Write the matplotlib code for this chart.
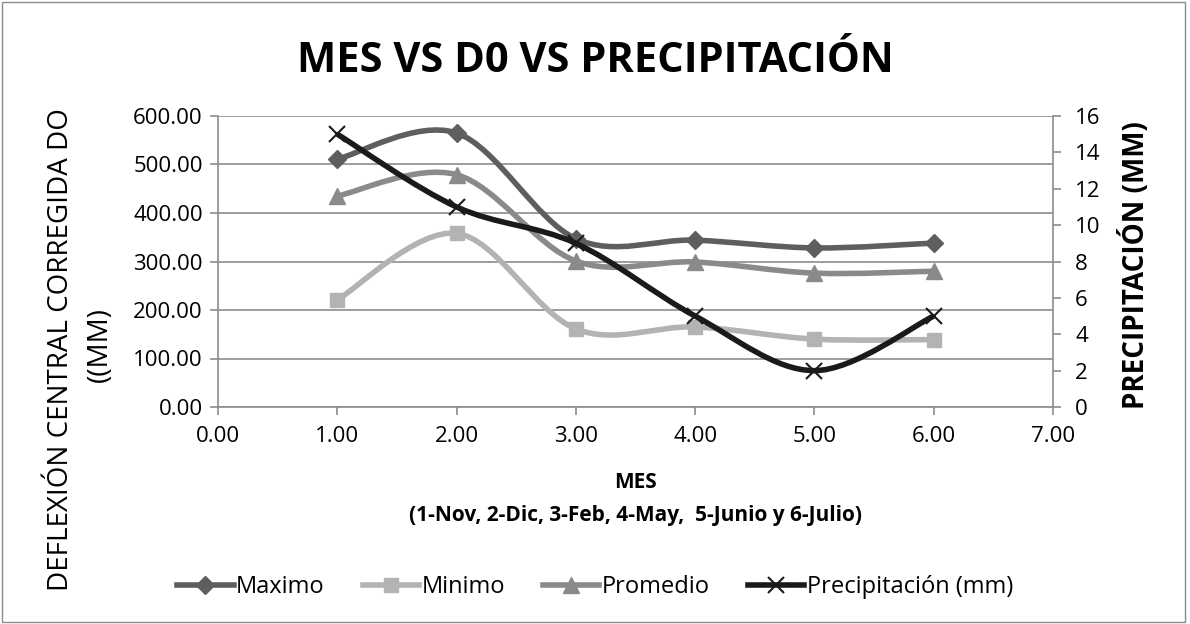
import matplotlib
matplotlib.use("Agg")
import matplotlib.pyplot as plt
from matplotlib.path import Path
from matplotlib.patches import PathPatch, Rectangle
from matplotlib.lines import Line2D

plt.rcParams['font.family'] = ['Open Sans', 'DejaVu Sans']

# data
mes = [1, 2, 3, 4, 5, 6]
maximo = [511, 565, 347, 344, 328, 338]
minimo = [221, 358, 161, 165, 140, 139]
promedio = [435, 479, 301, 299, 276, 280]
precip = [15, 11, 9, 5, 2, 5]

x_ticks = [0, 1, 2, 3, 4, 5, 6, 7]
y_ticks = [0, 100, 200, 300, 400, 500, 600]
y2_ticks = [0, 2, 4, 6, 8, 10, 12, 14, 16]

GRID = '#8c8c8c'
W, H = 1190, 624


def smooth(xs, ys):
    # bezier path like excel's smoothed line
    verts = [(xs[0], ys[0])]
    codes = [Path.MOVETO]
    n = len(xs)
    for i in range(n - 1):
        a = i - 1 if i > 0 else i
        b = i + 2 if i + 2 < n else i + 1
        c1 = (xs[i] + (xs[i + 1] - xs[a]) / 6, ys[i] + (ys[i + 1] - ys[a]) / 6)
        c2 = (xs[i + 1] - (xs[b] - xs[i]) / 6, ys[i + 1] - (ys[b] - ys[i]) / 6)
        verts += [c1, c2, (xs[i + 1], ys[i + 1])]
        codes += [Path.CURVE4] * 3
    return Path(verts, codes)


fig = plt.figure(figsize=(W / 100, H / 100), dpi=100)
ax = fig.add_axes([218 / W, 1 - 407 / H, (1053 - 218) / W, (407 - 116) / H])
ax2 = ax.twinx()

series = [
    ('Maximo', maximo, '#5e5e5e', 'D', 9),
    ('Minimo', minimo, '#b3b3b3', 's', 10),
    ('Promedio', promedio, '#8a8a8a', '^', 11),
]
handles = []
for name, vals, col, mk, ms in series:
    ax.add_patch(PathPatch(smooth(mes, vals), facecolor='none', edgecolor=col, lw=4, zorder=3))
    ax.plot(mes, vals, linestyle='none', marker=mk, color=col, markersize=ms, zorder=4)
    handles.append(Line2D([], [], color=col, lw=4, marker=mk, markersize=ms))

ax2.add_patch(PathPatch(smooth(mes, precip), facecolor='none', edgecolor='#1a1a1a', lw=4, zorder=3))
ax2.plot(mes, precip, linestyle='none', marker='x', color='#1a1a1a', markersize=12, mew=1.5, zorder=4)
handles.append(Line2D([], [], color='#1a1a1a', lw=4, marker='x', markersize=12, mew=1.5))

ax.set_xlim(0, 7)
ax.set_ylim(0, 600)
ax2.set_ylim(0, 16)
ax.set_xticks(x_ticks)
ax.set_xticklabels(['%.2f' % v for v in x_ticks])
ax.set_yticks(y_ticks)
ax.set_yticklabels(['%.2f' % v for v in y_ticks])
ax2.set_yticks(y2_ticks)

ax.grid(axis='y', color=GRID, lw=1.2)
ax.set_axisbelow(True)
for a in (ax, ax2):
    for s in a.spines.values():
        s.set_visible(False)
    a.tick_params(labelsize=16, color=GRID, length=6, width=1.2)
ax.tick_params(axis='x', pad=8)
ax.tick_params(axis='y', pad=5)
ax2.tick_params(axis='y', pad=10)
ax.spines['left'].set_visible(True)
ax.spines['bottom'].set_visible(True)
ax2.spines['right'].set_visible(True)
for s in (ax.spines['left'], ax.spines['bottom'], ax2.spines['right']):
    s.set_color(GRID)
    s.set_linewidth(1.2)

# axis titles
fig.text(61 / W, 1 - 350 / H, 'DEFLEXIÓN CENTRAL CORREGIDA DO', rotation=90,
         ha='center', va='center', fontsize=20)
fig.text(100 / W, 1 - 345 / H, '((MM)', rotation=90, ha='center', va='center', fontsize=20)
fig.text(1135 / W, 1 - 265 / H, 'PRECIPITACIÓN (MM)', rotation=90, ha='center', va='center',
         fontsize=20, fontweight='bold')
cx = (218 + 1053) / 2 / W
fig.text(cx, 1 - 482 / H, 'MES', ha='center', va='center', fontsize=15, fontweight='bold')
fig.text(cx, 1 - 516 / H, '(1-Nov, 2-Dic, 3-Feb, 4-May,  5-Junio y 6-Julio)', ha='center',
         va='center', fontsize=15, fontweight='bold')

fig.text(0.5, 1 - 62 / H, 'MES VS D0 VS PRECIPITACIÓN', ha='center', va='center',
         fontsize=30, fontweight='bold')

fig.legend(handles, ['Maximo', 'Minimo', 'Promedio', 'Precipitación (mm)'],
           loc='center', bbox_to_anchor=(0.5, 1 - 587 / H), ncol=4, frameon=False,
           fontsize=17, handlelength=2.4, handletextpad=0.1, columnspacing=1.6)

fig.patches.append(Rectangle((0.002, 0.003), 0.994, 0.993, transform=fig.transFigure,
                             fill=False, edgecolor='#8c8c8c', lw=1))

fig.savefig('out.png', dpi=100)
